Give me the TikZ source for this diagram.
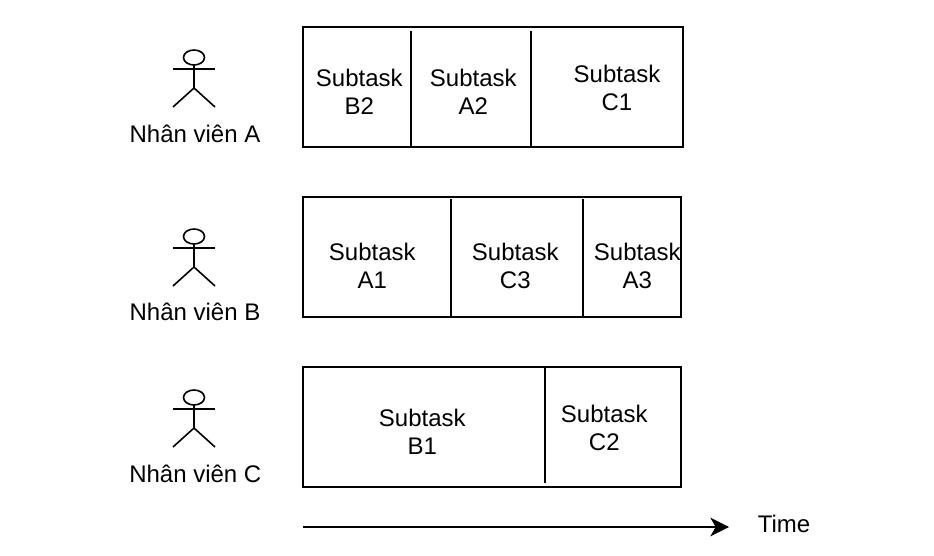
\documentclass[tikz,border=0pt]{standalone}
\usepackage{fontspec}
\setmainfont{Liberation Sans}
\usetikzlibrary{arrows.meta}
\tikzset{
  lane/.style={draw=black,line width=1.1pt,minimum width=0pt,inner sep=0pt},
  divider/.style={draw=black,line width=1.1pt},
  label/.style={font=\fontsize{18}{21}\selectfont,align=center,inner sep=0pt,text=black},
  stick/.style={draw=black,line width=1.2pt},
  timeline/.style={draw=black,line width=1.1pt,-{Stealth[length=14pt,width=14pt,inset=4pt]}}
}
\begin{document}
\begin{tikzpicture}[x=0.75pt,y=-0.75pt]
\useasboundingbox (0,0) rectangle (934,556);
\fill[white] (0,0) rectangle (934,556);
% lanes
\draw[lane] (303,27) rectangle (683,147);
\draw[lane] (303,197) rectangle (681,317);
\draw[lane] (303,367) rectangle (681,487);
% dividers
\draw[divider] (411,31) -- (411,147);
\draw[divider] (531,31) -- (531,147);
\draw[divider] (451,199) -- (451,317);
\draw[divider] (583,199) -- (583,317);
\draw[divider] (545,367) -- (545,483);
% labels
\node[label] (b2) at (359.3,92) {Subtask\\B2};
\node[label] (a2) at (473.3,92) {Subtask\\A2};
\node[label] (c1) at (617,88) {Subtask\\C1};
\node[label] (a1) at (372.3,266) {Subtask\\A1};
\node[label] (c3) at (515.3,266) {Subtask\\C3};
\node[label] (a3) at (637.3,266) {Subtask\\A3};
\node[label] (b1) at (422.3,432) {Subtask\\B1};
\node[label] (c2) at (604.3,428) {Subtask\\C2};
% actors
\foreach \yy in {50,229,390}{
  \draw[stick] (194,\yy+7.5) ellipse (10.5 and 7.5);
  \draw[stick] (194,\yy+15) -- (194,\yy+38);
  \draw[stick] (173,\yy+19) -- (215,\yy+19);
  \draw[stick] (173,\yy+57) -- (194,\yy+38) -- (215,\yy+57);
}
\node[label] (na) at (195,134) {Nhân viên A};
\node[label] (nb) at (195,312) {Nhân viên B};
\node[label] (nc) at (195.3,474) {Nhân viên C};
% time
\coordinate (t0) at (303,527);
\coordinate (t1) at (729,527);
\draw[timeline] (t0) -- (t1);
\node[label] (time) at (784,524) {Time};
\end{tikzpicture}
\end{document}
